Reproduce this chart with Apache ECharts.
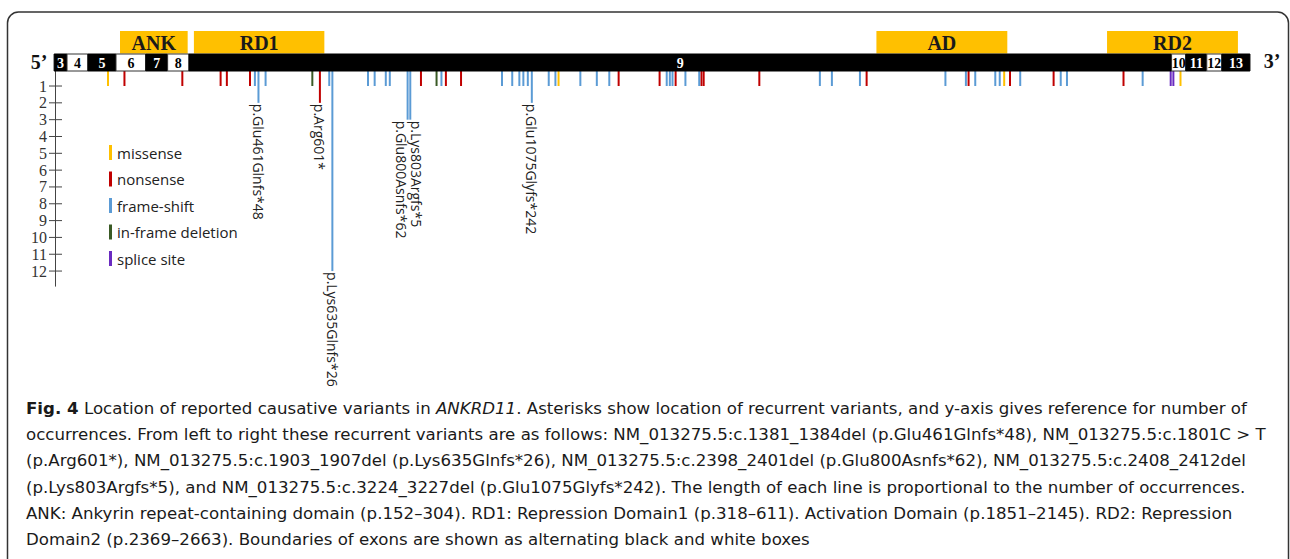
<!DOCTYPE html>
<html><head><meta charset="utf-8">
<script src="https://cdn.jsdelivr.net/npm/echarts@6/dist/echarts.min.js"></script>
<style>html,body{margin:0;padding:0;background:#fff;}#c{width:1290px;height:559px;}</style>
</head><body><div id="c"></div>
<script>
// ---- data (protein positions) ----
const exonLabels = ['3','4','5','6','7','8','9','10','11','12','13'];
const exonBounds = [4, 33, 80, 143, 210, 259, 307, 2514, 2546, 2593, 2627, 2690];
const domainNames = ['ANK', 'RD1', 'AD', 'RD2'];
const domainStarts = [152, 318, 1851, 2369];
const domainEnds = [304, 611, 2145, 2663];
const variantTypes = ['missense', 'nonsense', 'frame-shift', 'in-frame deletion', 'splice site'];
// [position, occurrences, recurrent label]
const missense = [[125,1],[1137,1],[2138,1],[2534,1]];
const nonsense = [[162,1],[292,1],[378,1],[392,1],[444,1],[601,2,'p.Arg601*'],[828,1],[884,1],[918,1],
  [1272,1],[1364,1],[1400,1],[1458,1],[1463,1],[1588,1],[1829,1],[2058,1],[2151,1],[2249,1],[2406,1]];
const frameShift = [[455,1],[463,2,'p.Glu461Glnfs*48'],[479,1],[622,1],[629,12,'p.Lys635Glnfs*26'],[709,1],[724,1],
  [749,1],[758,1],[798,3,'p.Glu800Asnfs*62'],[804,3,'p.Lys803Argfs*5'],[874,1],[1010,1],[1033,1],[1049,1],[1058,1],
  [1068,1],[1077,2,'p.Glu1075Glyfs*242'],[1115,1],[1130,1],[1186,1],[1223,1],[1251,1],[1380,1],[1387,1],[1393,1],
  [1422,1],[1453,1],[1724,1],[1751,1],[1814,1],[2006,1],[2052,1],[2073,1],[2118,1],[2128,1],[2174,1],[2265,1],
  [2279,1],[2449,1]];
const inFrameDeletion = [[584,1],[863,1]];
const spliceSite = [[2512,1],[2518,1]];
const yTicks = [1,2,3,4,5,6,7,8,9,10,11,12];
const captionLines = [
  '{b|Fig. 4} Location of reported causative variants in {i|ANKRD11}. Asterisks show location of recurrent variants, and y-axis gives reference for number of',
  'occurrences. From left to right these recurrent variants are as follows: NM_013275.5:c.1381_1384del (p.Glu461Glnfs*48), NM_013275.5:c.1801C > T',
  '(p.Arg601*), NM_013275.5:c.1903_1907del (p.Lys635Glnfs*26), NM_013275.5:c.2398_2401del (p.Glu800Asnfs*62), NM_013275.5:c.2408_2412del',
  '(p.Lys803Argfs*5), and NM_013275.5:c.3224_3227del (p.Glu1075Glyfs*242). The length of each line is proportional to the number of occurrences.',
  'ANK: Ankyrin repeat-containing domain (p.152\u2013304). RD1: Repression Domain1 (p.318\u2013611). Activation Domain (p.1851\u20132145). RD2: Repression',
  'Domain2 (p.2369\u20132663). Boundaries of exons are shown as alternating black and white boxes'
];

// ---- styles ----
const typeColors = ['#FFC000', '#C00000', '#5B9BD5', '#3A5A25', '#6A2BC0'];
const typeData = [missense, nonsense, frameShift, inFrameDeletion, spliceSite];
const labelSide = {'p.Glu800Asnfs*62': -6, 'p.Lys803Argfs*5': 6.5};
const sansFont = '"Open Sans", "Noto Sans", sans-serif';
const capFont = '"DejaVu Sans", "Open Sans", sans-serif';
const serifFont = '"Liberation Serif", "DejaVu Serif", serif';

// fit caption font so that the second caption line spans the reference width
const mctx = document.createElement('canvas').getContext('2d');
mctx.font = '16px ' + capFont;
const capSize = Math.max(14, Math.min(17, 16 * 1240 / mctx.measureText(captionLines[1]).width));

const chart = echarts.init(document.getElementById('c'), null, {renderer: 'svg'});

function variantRenderer(color, raw) {
  return function (params, api) {
    const p0 = api.coord([api.value(0), 0]);
    const p1 = api.coord([api.value(0), api.value(1)]);
    const children = [{type: 'line', shape: {x1: p0[0], y1: p0[1], x2: p1[0], y2: p1[1]},
      style: {stroke: color, lineWidth: 2}}];
    const label = raw[params.dataIndex][2];
    if (label) {
      const dx = labelSide[label] || 0;
      children.push({type: 'text', x: p1[0] + dx, y: p1[1] + 1, rotation: -Math.PI / 2,
        style: {text: label, x: 0, y: 0, align: 'left', verticalAlign: 'middle',
          fill: '#222', fontSize: 14, fontFamily: sansFont}});
    }
    return {type: 'group', children: children};
  };
}

const series = variantTypes.map((name, i) => ({
  type: 'custom', name: name, xAxisIndex: 0, yAxisIndex: 0, z: 2,
  itemStyle: {color: typeColors[i]},
  data: typeData[i].map(d => [d[0], d[1]]),
  renderItem: variantRenderer(typeColors[i], typeData[i])
}));

// y ticks crossing the axis
series.push({
  type: 'custom', xAxisIndex: 0, yAxisIndex: 0, z: 3, silent: true,
  data: yTicks.map(v => [6, v]),
  renderItem: function (params, api) {
    const p = api.coord([api.value(0), api.value(1)]);
    return {type: 'line', shape: {x1: p[0] - 6, y1: p[1], x2: p[0] + 7, y2: p[1]},
      style: {stroke: '#444', lineWidth: 1}};
  }
});

// exon bar
series.push({
  type: 'custom', xAxisIndex: 1, yAxisIndex: 1, z: 5, silent: true,
  data: exonLabels.map((l, i) => [exonBounds[i], exonBounds[i + 1]]),
  renderItem: function (params, api) {
    const i = params.dataIndex;
    const a = api.coord([api.value(0), 26]);
    const b = api.coord([api.value(1), 43]);
    const dark = parseInt(exonLabels[i]) % 2 === 1;
    return {type: 'group', children: [
      {type: 'rect', shape: {x: a[0], y: a[1], width: b[0] - a[0], height: b[1] - a[1]},
        style: {fill: dark ? '#000' : '#fff', stroke: dark ? '#000' : '#333', lineWidth: 1}},
      {type: 'text', x: (a[0] + b[0]) / 2, y: (a[1] + b[1]) / 2 + 1,
        style: {text: exonLabels[i], align: 'center', verticalAlign: 'middle',
          fill: dark ? '#fff' : '#000', fontSize: 14, fontWeight: 'bold', fontFamily: serifFont}}
    ]};
  }
});

// domains
series.push({
  type: 'custom', xAxisIndex: 1, yAxisIndex: 1, z: 4, silent: true,
  data: domainNames.map((n, i) => [domainStarts[i], domainEnds[i]]),
  renderItem: function (params, api) {
    const i = params.dataIndex;
    const a = api.coord([api.value(0), 3]);
    const b = api.coord([api.value(1), 25.5]);
    return {type: 'group', children: [
      {type: 'rect', shape: {x: a[0], y: a[1], width: b[0] - a[0], height: b[1] - a[1]},
        style: {fill: '#FFC000'}},
      {type: 'text', x: (a[0] + b[0]) / 2, y: (a[1] + b[1]) / 2 + 1,
        style: {text: domainNames[i], align: 'center', verticalAlign: 'middle',
          fill: '#1a1a1a', fontSize: 20, fontWeight: 'bold', fontFamily: serifFont}}
    ]};
  }
});

const graphic = [
  {type: 'rect', shape: {x: 7.5, y: 12, width: 1281, height: 620, r: 11},
    style: {fill: 'none', stroke: '#333', lineWidth: 1.5}, z: -1},
  {type: 'text', x: 39, y: 62, style: {text: '5\u2019', align: 'center', verticalAlign: 'middle',
    fontSize: 20, fontWeight: 'bold', fontFamily: serifFont, fill: '#111'}},
  {type: 'text', x: 1272, y: 61, style: {text: '3\u2019', align: 'center', verticalAlign: 'middle',
    fontSize: 20, fontWeight: 'bold', fontFamily: serifFont, fill: '#111'}}
];
captionLines.forEach((t, i) => {
  graphic.push({type: 'text', x: 26, y: 408.5 + i * 26.2, style: {
    text: t, align: 'left', verticalAlign: 'middle', fill: '#1a1a1a',
    fontSize: capSize, fontFamily: capFont,
    rich: {b: {fontWeight: 'bold', fontSize: capSize, fontFamily: capFont, fill: '#1a1a1a'},
      i: {fontStyle: 'italic', fontSize: capSize, fontFamily: capFont, fill: '#1a1a1a'}}
  }});
});

chart.setOption({
  animation: false,
  grid: [
    {left: 55, right: 35.6, top: 69.2, height: 217},
    {left: 55, right: 35.6, top: 28, height: 44}
  ],
  xAxis: [
    {type: 'value', gridIndex: 0, min: 6, max: 2700, show: false},
    {type: 'value', gridIndex: 1, min: 6, max: 2700, show: false}
  ],
  yAxis: [
    {type: 'value', gridIndex: 0, min: 0, max: 12.9, interval: 1, inverse: true,
      splitLine: {show: false}, axisTick: {show: false},
      axisLine: {show: true, lineStyle: {color: '#444', width: 1}},
      axisLabel: {margin: 8, fontFamily: serifFont, fontSize: 16, lineHeight: 16, color: '#333',
        formatter: v => (yTicks.indexOf(v) >= 0 ? String(v) : '')}},
    {type: 'value', gridIndex: 1, min: 0, max: 44, inverse: true, show: false}
  ],
  legend: {orient: 'vertical', left: 104, top: 140, itemWidth: 3, itemHeight: 15, itemGap: 11.5,
    icon: 'rect', data: variantTypes, selectedMode: false,
    textStyle: {fontSize: 15, fontFamily: sansFont, color: '#222'}},
  graphic: graphic,
  series: series
});
</script></body></html>
